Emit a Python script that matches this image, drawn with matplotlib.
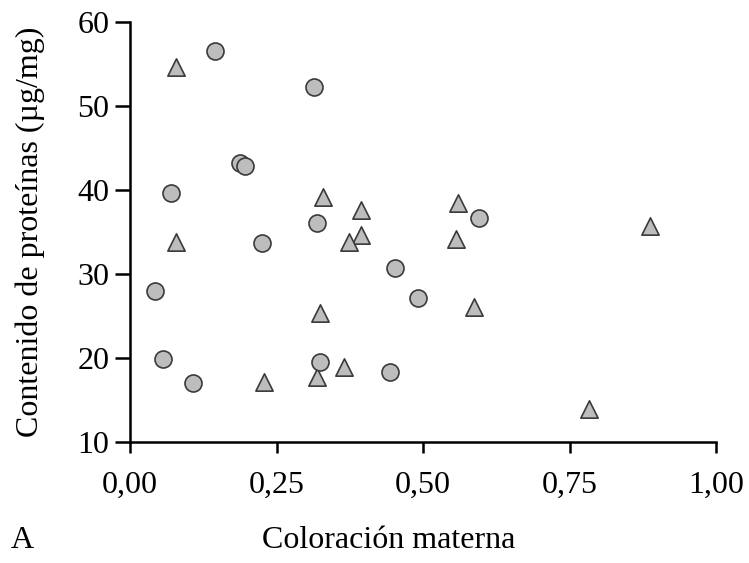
import matplotlib
matplotlib.use("Agg")
import matplotlib.pyplot as plt

plt.rcParams['font.family'] = ['Liberation Serif', 'DejaVu Serif']

# Circles group
circ_x = [0.145, 0.314, 0.188, 0.197, 0.070, 0.226, 0.319, 0.596, 0.452, 0.491,
          0.042, 0.057, 0.107, 0.325, 0.444]
circ_y = [56.5, 52.3, 43.2, 42.9, 39.7, 33.7, 36.1, 36.7, 30.7, 27.1,
          28.0, 19.9, 17.0, 19.5, 18.3]

# Triangles group
tri_x = [0.078, 0.329, 0.395, 0.394, 0.374, 0.079, 0.560, 0.556, 0.887, 0.587,
         0.324, 0.783, 0.229, 0.319, 0.366]
tri_y = [54.7, 39.2, 37.6, 34.7, 33.8, 33.8, 38.5, 34.2, 35.7, 26.1,
         25.3, 13.9, 17.1, 17.7, 18.9]

xticks = [0.0, 0.25, 0.5, 0.75, 1.0]
xticklabels = ["0,00", "0,25", "0,50", "0,75", "1,00"]
yticks = [10, 20, 30, 40, 50, 60]

fig = plt.figure(figsize=(7.49, 5.63), dpi=100)
ax = fig.add_axes([130/749, 1 - 442/563, (716-130)/749, (442-22)/563])

face = "#bdbdbd"
edge = "#3a3a3a"
ax.scatter(tri_x, tri_y, marker="^", s=155, facecolor=face, edgecolor=edge,
           linewidth=1.2, zorder=3, clip_on=False)
ax.scatter(circ_x, circ_y, marker="o", s=150, facecolor=face, edgecolor=edge,
           linewidth=1.2, zorder=3, clip_on=False)

ax.set_xlim(0, 1)
ax.set_ylim(10, 60)
ax.set_xticks(xticks)
ax.set_xticklabels(xticklabels)
ax.set_yticks(yticks)

for s in ["top", "right"]:
    ax.spines[s].set_visible(False)
for s in ["left", "bottom"]:
    ax.spines[s].set_linewidth(1.8)
    ax.spines[s].set_color("black")

fs = 23
ax.tick_params(axis="x", direction="out", length=8, width=1.8, pad=13, labelsize=fs)
ax.tick_params(axis="y", direction="out", length=11, width=1.8, pad=4, labelsize=fs)

fig.text(30/749, 1 - 232/563, "Contenido de proteínas (µg/mg)", rotation=90,
         ha="center", va="center", fontsize=fs)
fig.text(389/749, 1 - 540/563, "Coloración materna", ha="center", va="center",
         fontsize=fs)
fig.text(22/749, 1 - 540/563, "A", ha="center", va="center", fontsize=fs)

fig.savefig("out.png", dpi=100)
